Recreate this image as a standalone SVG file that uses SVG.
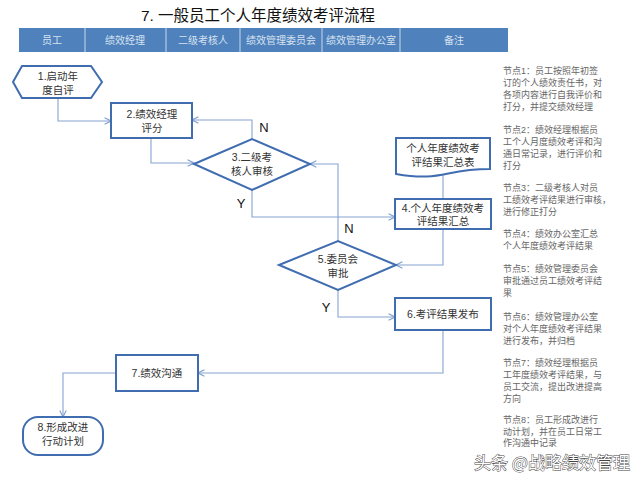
<svg xmlns="http://www.w3.org/2000/svg" width="640" height="480" viewBox="0 0 640 480">
<defs>
<marker id="arr" viewBox="0 0 10 10" refX="9" refY="5" markerWidth="8" markerHeight="8" markerUnits="userSpaceOnUse" orient="auto">
<path d="M1,1 L9,5 L1,9" fill="none" stroke="#7f9fcf" stroke-width="1.4"/>
</marker>
</defs>
<style>
text{font-family:"Liberation Sans","Noto Sans CJK SC",sans-serif}
.title{font-size:15.5px;fill:#111;text-anchor:middle}
.hd{font-size:10px;fill:#d6e1ef;text-anchor:middle}
.node{fill:#fff;stroke:#3f6db0;stroke-width:2}
.nt{font-size:10.5px;fill:#333;text-anchor:middle}
.conn path{fill:none;stroke:#86a4d2;stroke-width:1.1}
.lbl{font-size:13px;fill:#111;text-anchor:middle}
.note{font-size:9px;fill:#666}
.wm{font-size:17px;fill:#fff;stroke:#444;stroke-width:0.9;paint-order:stroke;font-family:"Noto Sans CJK SC",sans-serif}
</style>
<rect width="640" height="480" fill="#fff"/>
<text class="title" x="258" y="21">7. 一般员工个人年度绩效考评流程</text>
<g id="header">
<rect x="19" y="28" width="489" height="24" fill="#4f81bd"/>
<g stroke="#c9d8ec" stroke-width="1">
<line x1="85" y1="28" x2="85" y2="52"/><line x1="166" y1="28" x2="166" y2="52"/><line x1="240" y1="28" x2="240" y2="52"/><line x1="322" y1="28" x2="322" y2="52"/><line x1="400" y1="28" x2="400" y2="52"/>
</g>
<text class="hd" x="52" y="44">员工</text>
<text class="hd" x="125" y="44">绩效经理</text>
<text class="hd" x="203" y="44">二级考核人</text>
<text class="hd" x="281" y="44">绩效管理委员会</text>
<text class="hd" x="361" y="44">绩效管理办公室</text>
<text class="hd" x="454" y="44">备注</text>
</g>
<g id="connectors" class="conn">
<path d="M58,98 V121 H111" marker-end="url(#arr)"/>
<path d="M151,138 V163 H194" marker-end="url(#arr)"/>
<path d="M252,139 V120 H192" marker-end="url(#arr)"/>
<path d="M252,190 V217 H395" marker-end="url(#arr)"/>
<path d="M443,174 V199"/>
<path d="M443,229 V265 H396" marker-end="url(#arr)"/>
<path d="M338,241 V164 H310" marker-end="url(#arr)"/>
<path d="M338,290 V317 H395" marker-end="url(#arr)"/>
<path d="M443,330 V373 H198" marker-end="url(#arr)"/>
<path d="M116,373 H63 V417" marker-end="url(#arr)"/>
</g>
<g id="labels">
<text class="lbl" x="264" y="132">N</text>
<text class="lbl" x="241" y="208">Y</text>
<text class="lbl" x="349" y="233">N</text>
<text class="lbl" x="326" y="312">Y</text>
</g>
<g id="n1">
<polygon class="node" points="13,82 22,66 91,66 102,82 91,98 22,98"/>
<text class="nt" x="58" y="80">1.启动年</text>
<text class="nt" x="58" y="94">度自评</text>
</g>
<g id="n2">
<rect class="node" x="111" y="103" width="81" height="35"/>
<text class="nt" x="152" y="118">2.绩效经理</text>
<text class="nt" x="152" y="132">评分</text>
</g>
<g id="n3">
<polygon class="node" points="194,164 252,139 310,164 252,190"/>
<text class="nt" x="252" y="161">3.二级考</text>
<text class="nt" x="252" y="175">核人审核</text>
</g>
<g id="doc">
<path class="node" d="M396,138 H490 V169 C443,169 443,182 396,174 Z"/>
<text class="nt" x="443" y="152">个人年度绩效考</text>
<text class="nt" x="443" y="166">评结果汇总表</text>
</g>
<g id="n4">
<rect class="node" x="395" y="199" width="96" height="30"/>
<text class="nt" x="443" y="212">4.个人年度绩效考</text>
<text class="nt" x="443" y="225">评结果汇总</text>
</g>
<g id="n5">
<polygon class="node" points="279,265 338,241 396,265 338,290"/>
<text class="nt" x="338" y="263">5.委员会</text>
<text class="nt" x="338" y="277">审批</text>
</g>
<g id="n6">
<rect class="node" x="395" y="298" width="96" height="32"/>
<text class="nt" x="443" y="318">6.考评结果发布</text>
</g>
<g id="n7">
<rect class="node" x="116" y="355" width="82" height="36"/>
<text class="nt" x="157" y="377">7.绩效沟通</text>
</g>
<g id="n8">
<rect class="node" x="23" y="417" width="80" height="38" rx="15" ry="15"/>
<text class="nt" x="63" y="431">8.形成改进</text>
<text class="nt" x="63" y="445">行动计划</text>
</g>
<g id="notes" class="note">
<text x="503" y="74">节点1：员工按照年初签</text>
<text x="503" y="86">订的个人绩效责任书，对</text>
<text x="503" y="98">各项内容进行自我评价和</text>
<text x="503" y="110">打分，并提交绩效经理</text>
<text x="503" y="133">节点2：绩效经理根据员</text>
<text x="503" y="145">工个人月度绩效考评和沟</text>
<text x="503" y="157">通日常记录，进行评价和</text>
<text x="503" y="169">打分</text>
<text x="503" y="191">节点3：二级考核人对员</text>
<text x="503" y="203">工绩效考评结果进行审核，</text>
<text x="503" y="215">进行修正打分</text>
<text x="503" y="237">节点4：绩效办公室汇总</text>
<text x="503" y="249">个人年度绩效考评结果</text>
<text x="503" y="272">节点5：绩效管理委员会</text>
<text x="503" y="284">审批通过员工绩效考评结</text>
<text x="503" y="296">果</text>
<text x="503" y="320">节点6：绩效管理办公室</text>
<text x="503" y="332">对个人年度绩效考评结果</text>
<text x="503" y="344">进行发布，并归档</text>
<text x="503" y="366">节点7：绩效经理根据员</text>
<text x="503" y="378">工年度绩效考评结果，与</text>
<text x="503" y="390">员工交流，提出改进提高</text>
<text x="503" y="402">方向</text>
<text x="503" y="423">节点8：员工形成改进行</text>
<text x="503" y="435">动计划，并在员工日常工</text>
<text x="503" y="446">作沟通中记录</text>
</g>
<text class="wm" x="474" y="469">头条 @战略绩效管理</text>
</svg>
